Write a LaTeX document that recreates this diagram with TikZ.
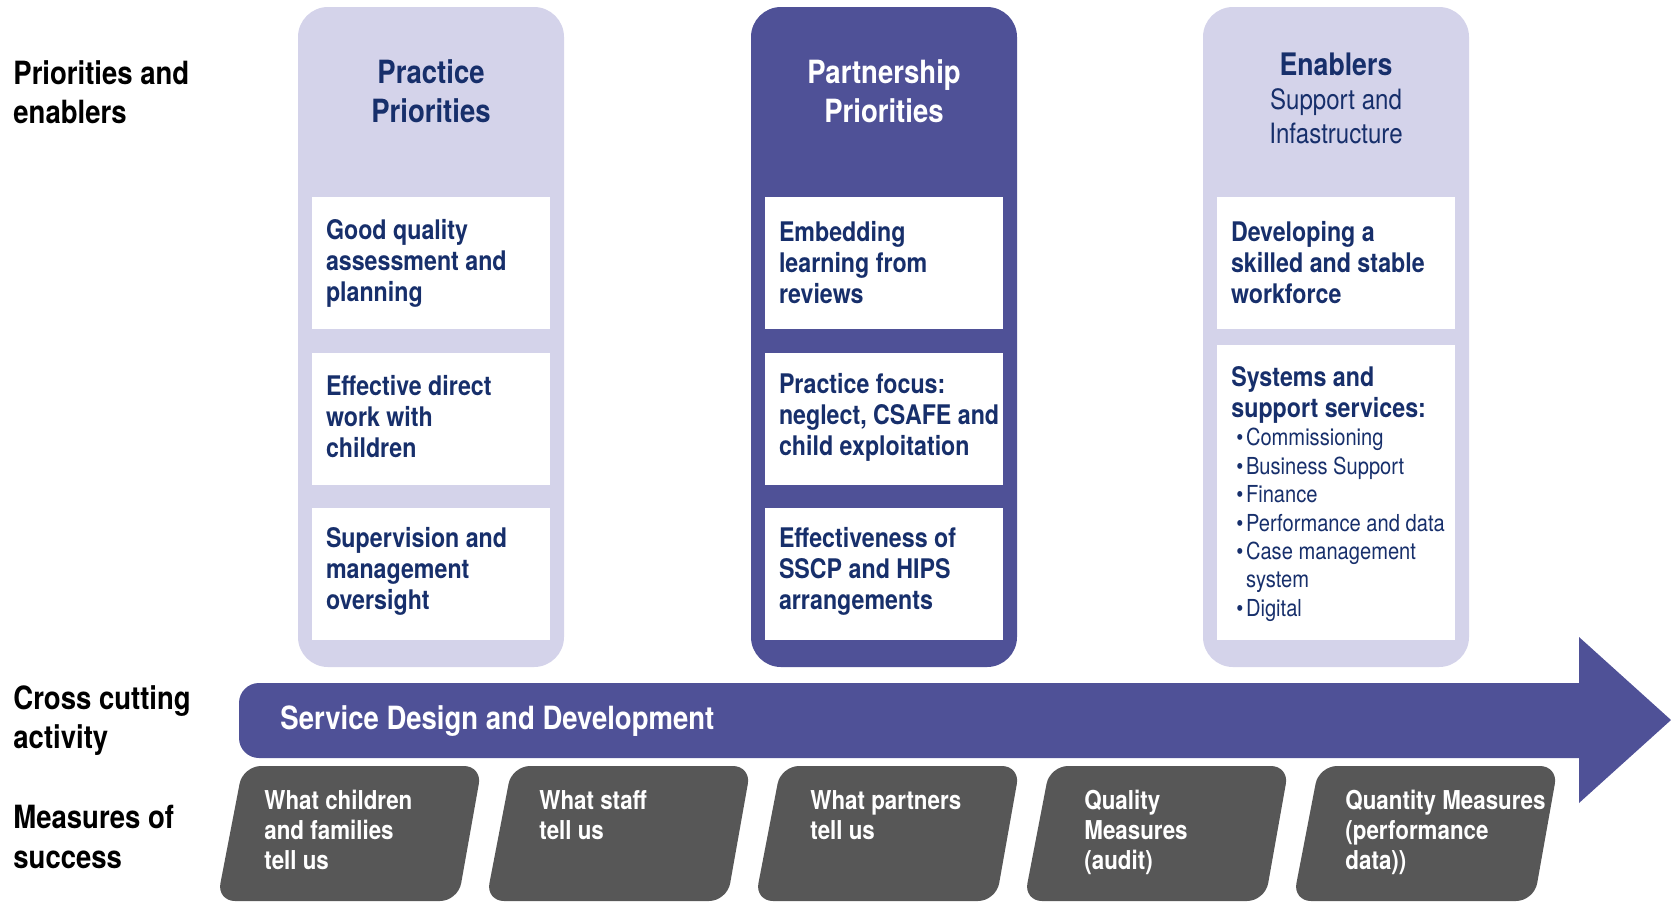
\documentclass[tikz,border=0pt]{standalone}
\usepackage{fontspec}
\setmainfont{TeX Gyre Heros}[FakeStretch=0.86]
\definecolor{lav}{HTML}{D4D3EA}
\definecolor{pur}{HTML}{4F5197}
\definecolor{navy}{HTML}{172F6B}
\definecolor{gry}{HTML}{575757}
\newcommand\bitem{\makebox[4.8pt][l]{\textbullet}}
\begin{document}
\begin{tikzpicture}[x=0.5pt,y=-0.5pt,
  lbl/.style={anchor=north west, inner sep=0, align=left, text=black, font=\fontsize{16}{19.7}\selectfont\bfseries},
  col/.style={rounded corners=15pt, minimum width=133pt, minimum height=330pt, inner sep=0},
  lightcol/.style={col, fill=lav},
  darkcol/.style={col, fill=pur},
  ttl/.style={anchor=north, inner sep=0, align=center, font=\fontsize{16}{19.75}\selectfont\bfseries},
  wbox/.style={fill=white, minimum width=119pt, minimum height=66pt, inner sep=0},
  btext/.style={anchor=west, inner sep=0, align=left, text=navy, font=\fontsize{13.5}{15.5}\selectfont\bfseries},
  mtext/.style={anchor=north west, inner sep=0, align=left, text=white, font=\fontsize{13}{15}\selectfont\bfseries},
  meas/.style={fill=gry, rounded corners=9pt}
]
\useasboundingbox (0,0) rectangle (1671,901);

% left labels
\node[lbl] (l1) at (13,60) {Priorities and\\enablers};
\node[lbl] (l2) at (13,685) {Cross cutting\\activity};
\node[lbl] (l3) at (13,805) {Measures of\\success};

% columns
\node[lightcol] (c1) at (431,337) {};
\node[darkcol] (c2) at (884,337) {};
\node[lightcol] (c3) at (1336,337) {};

% titles
\node[ttl, text=navy] (t1) at (431,59) {Practice\\Priorities};
\node[ttl, text=white] (t2) at (884,59) {Partnership\\Priorities};
\node[anchor=north, inner sep=0, text=navy, font=\fontsize{15.5}{18}\selectfont\bfseries] (t3) at (1336,52) {Enablers};
\node[anchor=north, inner sep=0, align=center, text=navy, font=\fontsize{14}{17}\selectfont] (t3b) at (1336,88) {Support and\\Infastructure};

% white boxes
\node[wbox] (p1) at (431,263) {};
\node[wbox] (p2) at (431,419) {};
\node[wbox] (p3) at (431,574) {};
\node[wbox] (q1) at (884,263) {};
\node[wbox] (q2) at (884,419) {};
\node[wbox] (q3) at (884,574) {};
\node[wbox] (e1) at (1336,263) {};
\node[wbox, minimum height=147.5pt] (e2) at (1336,492.5) {};

\node[btext] (p1t) at ([xshift=7pt]p1.west) {Good quality\\assessment and\\planning};
\node[btext] (p2t) at ([xshift=7pt,yshift=1pt]p2.west) {Effective direct\\work with\\children};
\node[btext] (p3t) at ([xshift=7pt,yshift=1.5pt]p3.west) {Supervision and\\management\\oversight};
\node[btext] (q1t) at ([xshift=7pt]q1.west) {Embedding\\learning from\\reviews};
\node[btext] (q2t) at ([xshift=7pt,yshift=1pt]q2.west) {Practice focus:\\neglect, CSAFE and\\child exploitation};
\node[btext] (q3t) at ([xshift=7pt,yshift=1.5pt]q3.west) {Effectiveness of\\SSCP and HIPS\\arrangements};
\node[btext] (e1t) at ([xshift=7pt]e1.west) {Developing a\\skilled and stable\\workforce};
\node[btext, anchor=north west] (e2t) at (1231,366) {Systems and\\support services:};
\node[anchor=north west, inner sep=0, align=left, text=navy, font=\fontsize{11.7}{14.2}\selectfont] (e2l) at (1236,428)
  {\bitem Commissioning\\\bitem Business Support\\\bitem Finance\\\bitem Performance and data\\\bitem Case management\\\hspace*{4.8pt}system\\\bitem Digital};

% cross cutting arrow
\fill[pur] (900,683) -- (1579,683) -- (1579,637) -- (1671,720) -- (1579,803) -- (1579,758) -- (900,758)
  [rounded corners=10pt] -- (239,758) -- (239,683) -- cycle;
\node[anchor=base west, inner sep=0, text=white, font=\fontsize{16}{19}\selectfont\bfseries] (sdd) at (280,729) {Service Design and Development};

% measures
\fill[meas] (243,766) -- (482,766) -- (458,901) -- (217,901) -- cycle;
\fill[meas] (512,766) -- (751,766) -- (727,901) -- (486,901) -- cycle;
\fill[meas] (781,766) -- (1020,766) -- (996,901) -- (755,901) -- cycle;
\fill[meas] (1050,766) -- (1289,766) -- (1265,901) -- (1024,901) -- cycle;
\fill[meas] (1319,766) -- (1558,766) -- (1534,901) -- (1293,901) -- cycle;

\node[mtext] (m1) at (264,790) {What children\\and families\\tell us};
\node[mtext] (m2) at (539,790) {What staff\\tell us};
\node[mtext] (m3) at (810,790) {What partners\\tell us};
\node[mtext] (m4) at (1084,790) {Quality\\Measures\\(audit)};
\node[mtext] (m5) at (1345,790) {Quantity Measures\\(performance\\data))};
\end{tikzpicture}
\end{document}
